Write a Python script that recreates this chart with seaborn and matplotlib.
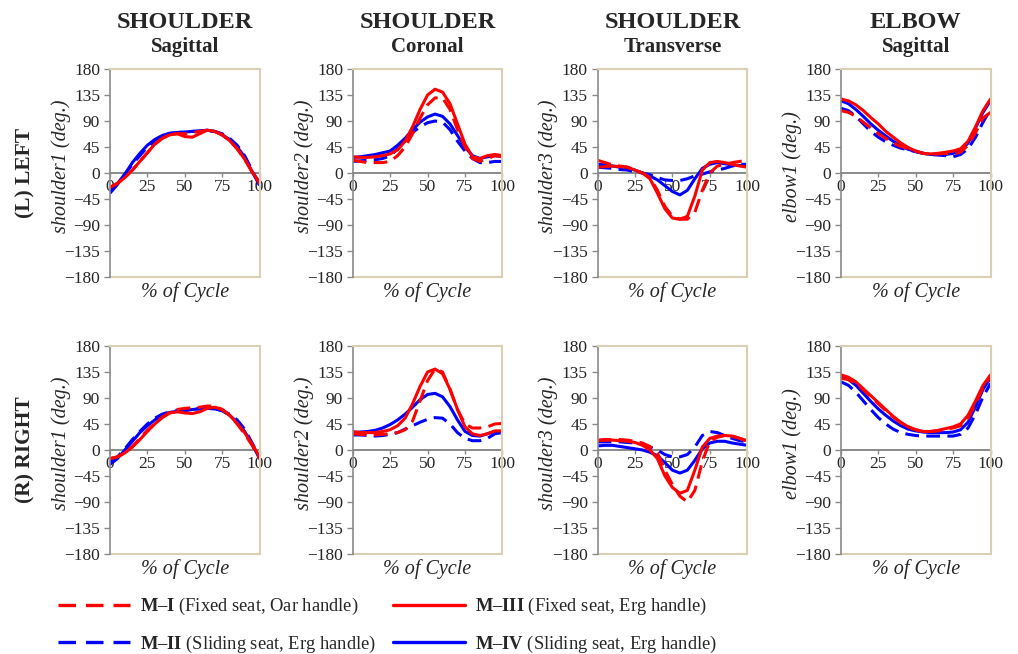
import numpy as np
import pandas as pd
import matplotlib
matplotlib.use('Agg')
import matplotlib.pyplot as plt
from matplotlib.lines import Line2D
import seaborn as sns

# ---- data ----
cycle = list(range(0, 101, 5))
methods = ['M–I', 'M–II', 'M–III', 'M–IV']
legend_text = ['(Fixed seat, Oar handle)', '(Sliding seat, Erg handle)',
               '(Fixed seat, Erg handle)', '(Sliding seat, Erg handle)']
col_titles = ['SHOULDER', 'SHOULDER', 'SHOULDER', 'ELBOW']
col_planes = ['Sagittal', 'Coronal', 'Transverse', 'Sagittal']
row_titles = ['(L) LEFT', '(R) RIGHT']
y_names = ['shoulder1', 'shoulder2', 'shoulder3', 'elbow1']
y_ticks = [-180, -135, -90, -45, 0, 45, 90, 135, 180]
x_ticks = [0, 25, 50, 75, 100]

# left side
l_sh1_m1 = [-25, -18, -8, 5, 20, 35, 50, 60, 66, 68, 68, 70, 72, 74, 72, 66, 56, 42, 24, 2, -18]
l_sh1_m2 = [-35, -20, -2, 15, 30, 45, 55, 63, 68, 70, 71, 72, 72, 73, 72, 68, 60, 48, 30, 5, -22]
l_sh1_m3 = [-25, -18, -8, 5, 20, 35, 50, 60, 66, 68, 63, 62, 68, 74, 72, 66, 56, 42, 24, 2, -16]
l_sh1_m4 = [-28, -18, -2, 18, 34, 48, 58, 65, 69, 70, 71, 72, 73, 74, 72, 66, 58, 45, 28, 2, -20]

l_sh2_m1 = [22, 20, 18, 18, 18, 20, 30, 45, 68, 95, 118, 130, 130, 110, 75, 45, 25, 20, 25, 30, 28]
l_sh2_m2 = [20, 21, 22, 23, 25, 30, 42, 58, 70, 80, 87, 90, 88, 75, 55, 38, 25, 18, 18, 20, 20]
l_sh2_m3 = [28, 27, 27, 28, 30, 33, 40, 55, 80, 110, 135, 145, 140, 120, 85, 50, 28, 25, 30, 32, 30]
l_sh2_m4 = [27, 28, 30, 32, 35, 38, 48, 60, 75, 88, 97, 102, 98, 85, 65, 45, 30, 25, 28, 30, 28]

l_sh3_m1 = [22, 18, 14, 12, 10, 5, 0, -8, -30, -58, -75, -80, -80, -68, -30, 0, 12, 15, 18, 20, 22]
l_sh3_m2 = [10, 9, 8, 6, 5, 2, 0, -3, -8, -12, -13, -13, -10, -5, -2, 2, 5, 8, 12, 15, 15]
l_sh3_m3 = [10, 11, 12, 11, 10, 5, 0, -10, -35, -62, -78, -80, -75, -40, 5, 18, 20, 18, 15, 12, 10]
l_sh3_m4 = [15, 14, 12, 10, 8, 5, 0, -5, -12, -22, -32, -38, -30, -10, 8, 15, 18, 16, 14, 13, 12]

l_elb_m1 = [108, 105, 98, 88, 78, 68, 60, 52, 46, 42, 38, 34, 32, 33, 34, 33, 36, 48, 70, 95, 105]
l_elb_m2 = [112, 108, 98, 85, 72, 62, 54, 48, 43, 40, 37, 34, 32, 31, 30, 28, 32, 42, 62, 88, 110]
l_elb_m3 = [128, 125, 118, 108, 96, 85, 72, 62, 52, 44, 38, 34, 33, 34, 36, 38, 42, 55, 80, 108, 128]
l_elb_m4 = [125, 120, 110, 98, 85, 74, 64, 55, 47, 41, 37, 34, 32, 32, 32, 34, 38, 52, 78, 105, 125]

# right side
r_sh1_m1 = [-15, -12, -5, 6, 20, 34, 46, 57, 65, 70, 72, 73, 74, 76, 76, 70, 60, 45, 28, 8, -15]
r_sh1_m2 = [-20, -12, 2, 18, 32, 45, 55, 62, 66, 68, 69, 70, 72, 74, 72, 68, 62, 52, 36, 12, -12]
r_sh1_m3 = [-15, -12, -5, 5, 18, 32, 45, 56, 64, 66, 64, 63, 66, 72, 74, 70, 60, 46, 30, 10, -12]
r_sh1_m4 = [-25, -15, 0, 15, 30, 42, 52, 60, 65, 67, 68, 70, 71, 72, 71, 68, 60, 48, 32, 10, -15]

r_sh2_m1 = [28, 27, 26, 26, 27, 28, 30, 35, 50, 85, 120, 140, 135, 105, 70, 45, 38, 38, 40, 45, 46]
r_sh2_m2 = [26, 26, 25, 24, 25, 27, 30, 36, 42, 48, 53, 56, 55, 45, 30, 20, 16, 16, 20, 28, 30]
r_sh2_m3 = [32, 30, 30, 30, 32, 35, 42, 55, 80, 110, 135, 140, 132, 105, 70, 40, 28, 25, 28, 33, 33]
r_sh2_m4 = [30, 31, 32, 34, 38, 44, 52, 62, 74, 87, 96, 98, 92, 75, 52, 32, 25, 24, 28, 32, 32]

r_sh3_m1 = [17, 18, 18, 18, 17, 15, 12, 6, -5, -35, -60, -80, -90, -70, -20, 15, 22, 25, 24, 20, 15]
r_sh3_m2 = [14, 14, 14, 14, 13, 12, 10, 5, 0, -8, -12, -12, -8, 5, 25, 32, 30, 25, 20, 16, 14]
r_sh3_m3 = [16, 17, 17, 16, 15, 13, 8, 0, -15, -45, -65, -75, -70, -35, 5, 20, 24, 25, 24, 20, 16]
r_sh3_m4 = [7, 8, 8, 6, 4, 2, 0, -4, -10, -22, -35, -40, -35, -18, 2, 12, 15, 15, 12, 10, 8]

r_elb_m1 = [124, 122, 115, 104, 92, 80, 68, 57, 47, 40, 35, 32, 32, 33, 36, 38, 42, 55, 80, 108, 128]
r_elb_m2 = [118, 112, 100, 85, 70, 56, 45, 36, 30, 27, 25, 24, 24, 24, 24, 24, 27, 38, 62, 92, 115]
r_elb_m3 = [130, 126, 118, 106, 94, 82, 70, 58, 48, 40, 35, 32, 32, 34, 37, 40, 45, 60, 85, 112, 130]
r_elb_m4 = [128, 122, 112, 98, 84, 71, 60, 50, 42, 36, 33, 31, 30, 30, 30, 31, 35, 48, 75, 105, 125]

panels = [
    [[l_sh1_m1, l_sh1_m2, l_sh1_m3, l_sh1_m4],
     [l_sh2_m1, l_sh2_m2, l_sh2_m3, l_sh2_m4],
     [l_sh3_m1, l_sh3_m2, l_sh3_m3, l_sh3_m4],
     [l_elb_m1, l_elb_m2, l_elb_m3, l_elb_m4]],
    [[r_sh1_m1, r_sh1_m2, r_sh1_m3, r_sh1_m4],
     [r_sh2_m1, r_sh2_m2, r_sh2_m3, r_sh2_m4],
     [r_sh3_m1, r_sh3_m2, r_sh3_m3, r_sh3_m4],
     [r_elb_m1, r_elb_m2, r_elb_m3, r_elb_m4]],
]

# ---- style ----
sns.set_style('white')
plt.rcParams['font.family'] = ['Liberation Serif', 'DejaVu Serif']
plt.rcParams['axes.unicode_minus'] = True
plt.rcParams['mathtext.fontset'] = 'custom'
plt.rcParams['mathtext.bf'] = 'Liberation Serif:bold'
plt.rcParams['mathtext.rm'] = 'Liberation Serif'

RED = '#ff0000'
BLUE = '#0000ff'
FRAME = '#d9d0b4'
AXIS = '#8a8a8a'
palette = {'M–I': RED, 'M–II': BLUE, 'M–III': RED, 'M–IV': BLUE}
dash = (4.5, 2.4)
dashes = {'M–I': dash, 'M–II': dash, 'M–III': '', 'M–IV': ''}
draw_order = ['M–II', 'M–IV', 'M–I', 'M–III']

fig = plt.figure(figsize=(10.18, 6.54), dpi=100)
lefts = [0.108, 0.3465, 0.587, 0.826]
bottoms = [0.5765, 0.153]
w, h = 0.147, 0.318

for r in range(2):
    for c in range(4):
        ax = fig.add_axes([lefts[c], bottoms[r], w, h])
        series = panels[r][c]
        df = pd.DataFrame({
            'cycle': cycle * 4,
            'angle': sum(series, []),
            'method': np.repeat(methods, len(cycle)),
        })
        sns.lineplot(data=df, x='cycle', y='angle', hue='method', style='method',
                     hue_order=draw_order, style_order=draw_order,
                     palette=palette, dashes=dashes, linewidth=2.2,
                     estimator=None, legend=False, ax=ax)
        ax.set_xlim(0, 100)
        ax.set_ylim(-180, 180)
        ax.set_xticks(x_ticks)
        ax.set_yticks(y_ticks)
        ax.spines['bottom'].set_position(('data', 0))
        ax.spines['bottom'].set_color(AXIS)
        ax.spines['bottom'].set_linewidth(1.4)
        ax.spines['bottom'].set_zorder(1)
        ax.spines['left'].set_color(AXIS)
        ax.spines['left'].set_linewidth(1.2)
        for s in ['top', 'right']:
            ax.spines[s].set_color(FRAME)
            ax.spines[s].set_linewidth(1.5)
        ax.axhline(-180, color=FRAME, lw=1.5, clip_on=False, zorder=0)
        ax.tick_params(axis='y', direction='out', length=4, width=1, color=AXIS,
                       labelsize=12.5, pad=3, left=True)
        ax.tick_params(axis='x', direction='out', length=3, width=1, color=AXIS,
                       labelsize=12.5, pad=1, bottom=True)
        ax.set_xlabel('% of Cycle', style='italic', fontsize=14.5)
        ax.xaxis.set_label_coords(0.5, -0.025)
        ax.set_ylabel(f'{y_names[c]} (deg.)', style='italic', fontsize=14.5)
        ax.yaxis.set_label_coords(-0.262, 0.53)

        if r == 0:
            cx = lefts[c] + w / 2
            fig.text(cx, 0.966, col_titles[c], ha='center', va='center',
                     fontsize=17.5, fontweight='bold')
            fig.text(cx, 0.928, col_planes[c], ha='center', va='center',
                     fontsize=15, fontweight='bold')

fig.text(0.025, 0.735, row_titles[0], rotation=90, ha='center', va='center',
         fontsize=15.5, fontweight='bold')
fig.text(0.025, 0.312, row_titles[1], rotation=90, ha='center', va='center',
         fontsize=15.5, fontweight='bold')

handles = []
labels = []
for m, t in zip(methods, legend_text):
    ls = (0, (5.25, 3.0)) if dashes[m] else '-'
    handles.append(Line2D([], [], color=palette[m], lw=2.4, linestyle=ls))
    labels.append(r'$\mathbf{' + m + '}$ ' + t)

fig.legend(handles, labels, loc='upper left', bbox_to_anchor=(0.05, 0.1),
           ncol=2, frameon=False, fontsize=13.3, handlelength=3.9,
           handletextpad=0.55, labelspacing=0.9, columnspacing=0.9,
           borderaxespad=0)

fig.savefig('out.png', dpi=100)
